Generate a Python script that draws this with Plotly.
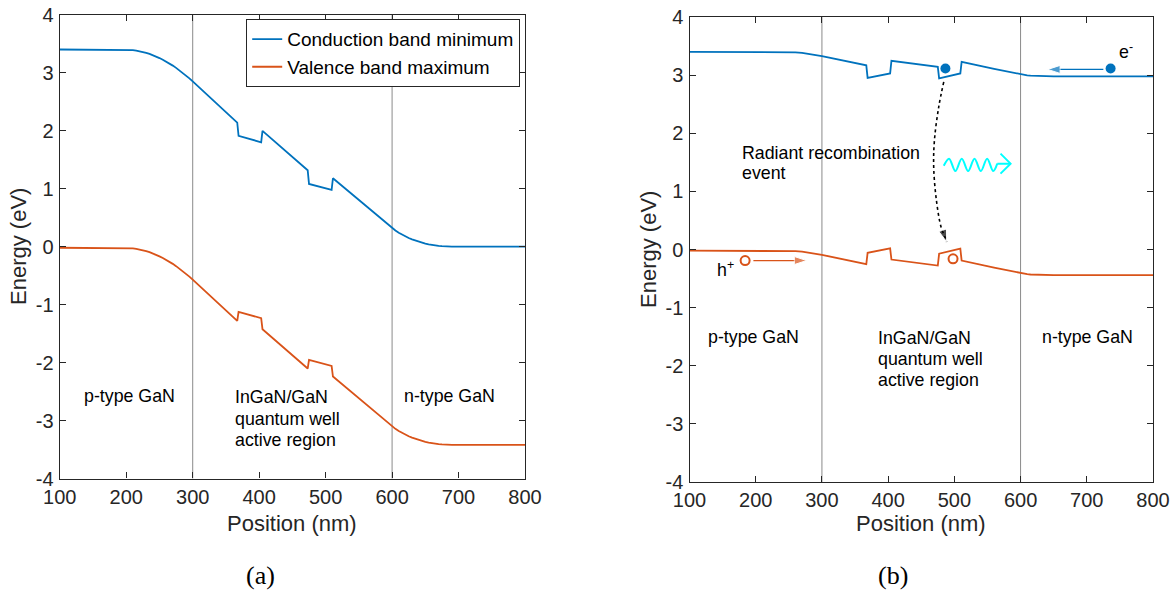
import plotly.graph_objects as go

# ---------------- data ----------------
# Panel (a): band edges without bias
pos_a = [100, 150, 190, 200, 205, 210, 215, 220, 225, 230, 235, 240, 245, 250, 255, 260, 265, 270, 275, 280, 285, 290, 295, 300,
         320, 340, 360, 367, 369, 403, 405, 473, 475, 509, 511,
         570, 580, 590, 600, 605, 610, 615, 620, 625, 630, 635, 640, 645, 650, 655, 660, 665, 670, 675, 680, 685, 690, 800]
cbm_a = [3.40, 3.40, 3.40, 3.399, 3.396, 3.39, 3.382, 3.371, 3.357, 3.341, 3.323, 3.302, 3.278, 3.252, 3.223, 3.192, 3.158, 3.122, 3.083, 3.041, 2.997, 2.951, 2.902, 2.85,
         2.638, 2.426, 2.214, 2.138, 1.91, 1.80, 1.995, 1.317, 1.081, 0.978, 1.179,
         0.605, 0.51, 0.415, 0.317, 0.277, 0.24, 0.206, 0.175, 0.148, 0.125, 0.104, 0.085, 0.068, 0.053, 0.04, 0.028, 0.019, 0.012, 0.007, 0.004, 0.001, 0.0, 0.0]
vbm_a = [-0.02, -0.02, -0.02, -0.021, -0.024, -0.03, -0.038, -0.049, -0.063, -0.079, -0.097, -0.118, -0.142, -0.168, -0.197, -0.228, -0.262, -0.298, -0.337, -0.379, -0.423, -0.469, -0.518, -0.57,
         -0.782, -0.994, -1.206, -1.282, -1.125, -1.235, -1.425, -2.103, -1.954, -2.057, -2.241,
         -2.815, -2.91, -3.005, -3.103, -3.143, -3.18, -3.214, -3.245, -3.272, -3.295, -3.316, -3.335, -3.352, -3.367, -3.38, -3.392, -3.401, -3.408, -3.413, -3.416, -3.419, -3.42, -3.42]

# Panel (b): band edges under forward bias
pos_b = [100, 240, 250, 260, 270, 280, 290, 300, 367, 369, 403, 405, 475, 477, 509, 511,
         560, 580, 590, 600, 605, 610, 615, 620, 630, 650, 800]
cbm_b = [3.40, 3.40, 3.398, 3.392, 3.382, 3.368, 3.35, 3.328, 3.168, 2.953, 3.03, 3.247, 3.143, 2.943, 3.029, 3.229,
         3.109, 3.06, 3.036, 3.012, 3.002, 2.995, 2.99, 2.987, 2.983, 2.98, 2.98]
vbm_b = [-0.02, -0.02, -0.022, -0.028, -0.038, -0.052, -0.07, -0.092, -0.252, -0.057, 0.02, -0.173, -0.277, -0.072, 0.014, -0.191,
         -0.311, -0.36, -0.384, -0.408, -0.418, -0.425, -0.43, -0.433, -0.437, -0.44, -0.44]

# carriers in panel (b)
electron_x = [486.5, 736]
electron_e = [3.115, 3.115]
hole_x = [184, 498]
hole_e = [-0.19, -0.16]

# carrier motion arrows (tail -> tip)
e_arrow_x = [725, 641]
e_arrow_e = [3.098, 3.098]
h_arrow_x = [196.5, 277]
h_arrow_e = [-0.19, -0.19]

# dotted recombination path (ends at the arrow tip)
recomb_x = [484.0, 476.4, 469.9, 468.8, 472.9, 480.0, 486.3, 488.4]
recomb_e = [2.884, 2.453, 1.879, 1.419, 0.845, 0.384, 0.2, 0.13]

# emitted photon squiggle (peaks/troughs) and arrow
photon_x = [484.0, 492.0, 501.5, 511.2, 520.8, 530.4, 540.0, 549.5, 558.7, 564.8]
photon_e = [1.44, 1.563, 1.35, 1.563, 1.35, 1.563, 1.35, 1.563, 1.35, 1.477]
photon_tail_x = [564.8, 584.9]
photon_tail_e = [1.477, 1.477]
chevron_x = [569.7, 584.9, 569.7]
chevron_e = [1.65, 1.477, 1.305]

# region boundaries and ticks
boundaries = [300, 600]
x_ticks = [100, 200, 300, 400, 500, 600, 700, 800]
x_ticklabels = ["100", "200", "300", "400", "500", "600", "700", "800"]
y_ticks = [-4, -3, -2, -1, 0, 1, 2, 3, 4]
y_ticklabels = ["-4", "-3", "-2", "-1", "0", "1", "2", "3", "4"]

# ---------------- styling ----------------
BLUE = "#0072BD"
ORANGE = "#D95319"
AX = "#262626"
FONT = "Liberation Sans"
W, H = 1175, 590

fig = go.Figure()

# Panel (a)
fig.add_trace(go.Scatter(x=pos_a, y=cbm_a, mode="lines", name="Conduction band minimum",
                         line=dict(color=BLUE, width=1.8), xaxis="x", yaxis="y"))
fig.add_trace(go.Scatter(x=pos_a, y=vbm_a, mode="lines", name="Valence band maximum",
                         line=dict(color=ORANGE, width=1.8), xaxis="x", yaxis="y"))

# Panel (b)
fig.add_trace(go.Scatter(x=pos_b, y=cbm_b, mode="lines", showlegend=False,
                         line=dict(color=BLUE, width=1.8), xaxis="x2", yaxis="y2"))
fig.add_trace(go.Scatter(x=pos_b, y=vbm_b, mode="lines", showlegend=False,
                         line=dict(color=ORANGE, width=1.8), xaxis="x2", yaxis="y2"))


def arrow_sizes(n, head):
    return [0] * (n - 1) + [head]


fig.add_trace(go.Scatter(x=recomb_x, y=recomb_e, mode="lines+markers", showlegend=False,
                         line=dict(color="black", width=1.6, dash="dot", shape="spline"),
                         marker=dict(symbol="arrow", angleref="previous", color="black",
                                     size=arrow_sizes(len(recomb_x), 13)),
                         xaxis="x2", yaxis="y2"))
fig.add_trace(go.Scatter(x=e_arrow_x, y=e_arrow_e, mode="lines+markers", showlegend=False,
                         line=dict(color=BLUE, width=1.3),
                         marker=dict(symbol="arrow", angleref="previous", color=BLUE,
                                     size=arrow_sizes(len(e_arrow_x), 13)),
                         xaxis="x2", yaxis="y2"))
fig.add_trace(go.Scatter(x=h_arrow_x, y=h_arrow_e, mode="lines+markers", showlegend=False,
                         line=dict(color=ORANGE, width=1.3),
                         marker=dict(symbol="arrow", angleref="previous", color=ORANGE,
                                     size=arrow_sizes(len(h_arrow_x), 13)),
                         xaxis="x2", yaxis="y2"))
fig.add_trace(go.Scatter(x=photon_x, y=photon_e, mode="lines", showlegend=False,
                         line=dict(color="#00FFFF", width=2, shape="spline"), xaxis="x2", yaxis="y2"))
fig.add_trace(go.Scatter(x=photon_tail_x, y=photon_tail_e, mode="lines", showlegend=False,
                         line=dict(color="#00FFFF", width=2), xaxis="x2", yaxis="y2"))
fig.add_trace(go.Scatter(x=chevron_x, y=chevron_e, mode="lines", showlegend=False,
                         line=dict(color="#00FFFF", width=2), xaxis="x2", yaxis="y2"))
fig.add_trace(go.Scatter(x=electron_x, y=electron_e, mode="markers", showlegend=False,
                         marker=dict(color=BLUE, size=10), xaxis="x2", yaxis="y2"))
fig.add_trace(go.Scatter(x=hole_x, y=hole_e, mode="markers", showlegend=False,
                         marker=dict(color="rgba(0,0,0,0)", size=9, line=dict(color=ORANGE, width=2)),
                         xaxis="x2", yaxis="y2"))

# domains (paper fractions) matching reference pixel boxes
xdom_a = [59.8 / W, 525 / W]
xdom_b = [689.5 / W, 1153 / W]
ydom_a = [1 - 478.5 / H, 1 - 14.7 / H]
ydom_b = [1 - 482 / H, 1 - 17 / H]

axis_common = dict(showline=True, linecolor=AX, linewidth=1.4, mirror="ticks",
                   ticks="inside", ticklen=6, tickwidth=1.2, tickcolor=AX,
                   showgrid=False, zeroline=False, automargin=False,
                   tickfont=dict(family=FONT, size=20, color=AX))

fig.update_layout(
    width=W, height=H, autosize=False,
    margin=dict(l=0, r=0, t=0, b=0, pad=0, autoexpand=False),
    paper_bgcolor="white", plot_bgcolor="white",
    font=dict(family=FONT, color="black"),
    xaxis=dict(domain=xdom_a, range=[100, 800], tickvals=x_ticks, ticktext=x_ticklabels,
               anchor="y", **axis_common),
    yaxis=dict(domain=ydom_a, range=[-4, 4], tickvals=y_ticks, ticktext=y_ticklabels,
               anchor="x", ticklabelstandoff=1, **axis_common),
    xaxis2=dict(domain=xdom_b, range=[100, 800], tickvals=x_ticks, ticktext=x_ticklabels,
                anchor="y2", **axis_common),
    yaxis2=dict(domain=ydom_b, range=[-4, 4], tickvals=y_ticks, ticktext=y_ticklabels,
                anchor="x2", ticklabelstandoff=1, **axis_common),
    legend=dict(x=520 / W, y=1 - 19 / H, xanchor="right", yanchor="top",
                bgcolor="white", bordercolor=AX, borderwidth=1.2,
                font=dict(family=FONT, size=19, color="black"),
                itemwidth=30, tracegroupgap=0),
)

# region boundaries
for xr, yr in (("x", "y domain"), ("x2", "y2 domain")):
    for b in boundaries:
        fig.add_shape(type="line", xref=xr, yref=yr, x0=b, x1=b, y0=0, y1=1,
                      line=dict(color="#8a8a8a", width=1), layer="below")

ann = []
tf = dict(family=FONT, size=17.8, color="black")


def label(xr, yr, x, y, lines, xanchor="center", dy=0.372):
    """one annotation per text line, lines dy (energy units) apart, block centred on y"""
    n = len(lines)
    for i, t in enumerate(lines):
        yy = y + ((n - 1) / 2 - i) * dy
        ann.append(dict(xref=xr, yref=yr, x=x, y=yy, text=t, showarrow=False, font=tf,
                        xanchor=xanchor, yanchor="middle", align="left"))


# panel (a) region labels
label("x", "y", 205, -2.58, ["p-type GaN"])
label("x", "y", 361, -2.97, ["InGaN/GaN", "quantum well", "active region"], xanchor="left")
label("x", "y", 687, -2.58, ["n-type GaN"])
# panel (b) region labels
label("x2", "y2", 196, -1.51, ["p-type GaN"])
label("x2", "y2", 381.7, -1.885, ["InGaN/GaN", "quantum well", "active region"], xanchor="left", dy=0.36)
label("x2", "y2", 701, -1.51, ["n-type GaN"])
label("x2", "y2", 176.3, 1.483, ["Radiant recombination", "event"], xanchor="left", dy=0.345)
ann.append(dict(xref="x2", yref="y2", x=745, y=3.42, text="e<sup>-</sup>",
                showarrow=False, font=tf, xanchor="left", yanchor="middle"))
ann.append(dict(xref="x2", yref="y2", x=170, y=-0.33, text="h<sup>+</sup>",
                showarrow=False, font=tf, xanchor="right", yanchor="middle"))
# axis titles
atf = dict(family=FONT, size=22, color=AX)
cm = dict(showarrow=False, xanchor="center", yanchor="middle")
ann.append(dict(xref="paper", yref="paper", x=(xdom_a[0] + xdom_a[1]) / 2, y=1 - 523 / H,
                text="Position (nm)", font=atf, **cm))
ann.append(dict(xref="paper", yref="paper", x=(xdom_b[0] + xdom_b[1]) / 2, y=1 - 523 / H,
                text="Position (nm)", font=atf, **cm))
ann.append(dict(xref="paper", yref="paper", x=19 / W, y=1 - 247 / H, text="Energy (eV)",
                textangle=-90, font=atf, **cm))
ann.append(dict(xref="paper", yref="paper", x=648 / W, y=1 - 250 / H, text="Energy (eV)",
                textangle=-90, font=atf, **cm))
# subfigure labels
sf = dict(family="Liberation Serif", size=26, color="black")
ann.append(dict(xref="paper", yref="paper", x=260 / W, y=1 - 575 / H, text="(a)", font=sf, **cm))
ann.append(dict(xref="paper", yref="paper", x=893 / W, y=1 - 575 / H, text="(b)", font=sf, **cm))

fig.update_layout(annotations=ann)

fig.write_html("out.html", config={"displayModeBar": False},
               post_script="document.body.style.margin='0px';")
